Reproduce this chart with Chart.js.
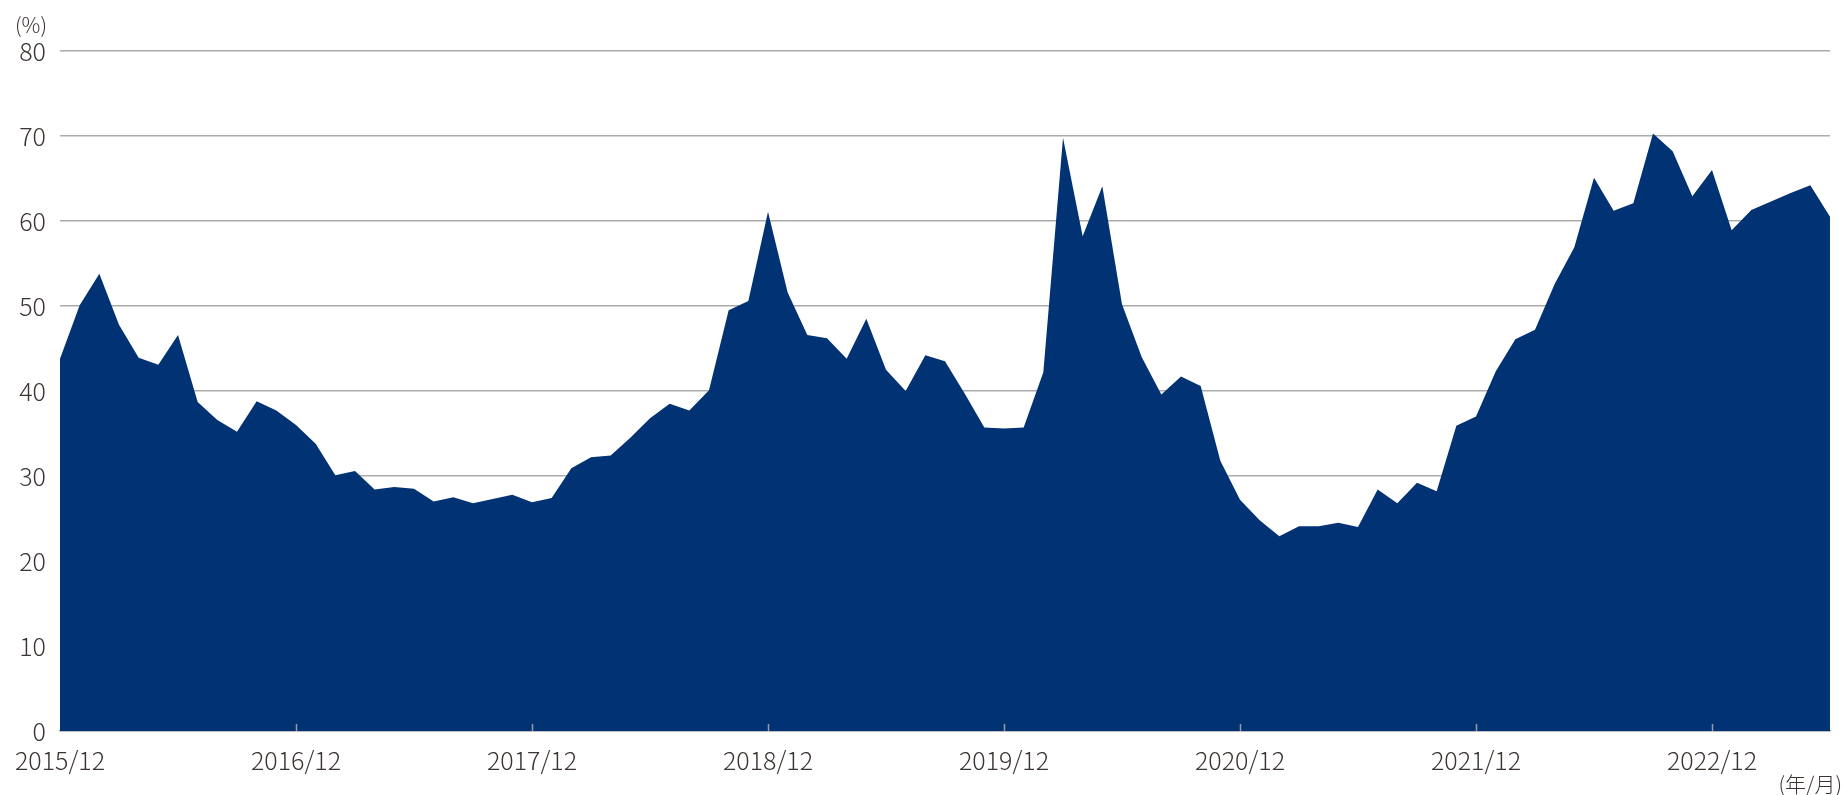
<!DOCTYPE html>
<html lang="ja">
<head>
<meta charset="utf-8">
<title>Chart</title>
<script src="https://cdn.jsdelivr.net/npm/chart.js@4/dist/chart.umd.min.js"></script>
<style>
  html, body { margin: 0; padding: 0; background: #fff; }
  #wrap { position: relative; width: 1843px; height: 795px; }
</style>
</head>
<body>
<div id="wrap"><canvas id="areaChart"></canvas></div>
<script>
// monthly values (%), one small array per calendar year
const startYear = 2015;
const startMonth = 12;
const vals2015 = [43.8];
const vals2016 = [50.1, 53.8, 47.8, 43.9, 43.1, 46.6, 38.7, 36.6, 35.2, 38.8, 37.7, 36.0];
const vals2017 = [33.8, 30.1, 30.6, 28.4, 28.7, 28.5, 27.0, 27.5, 26.8, 27.3, 27.8, 26.9];
const vals2018 = [27.4, 30.9, 32.2, 32.4, 34.5, 36.8, 38.5, 37.7, 40.1, 49.5, 50.6, 61.1];
const vals2019 = [51.6, 46.6, 46.2, 43.8, 48.5, 42.5, 40.0, 44.2, 43.5, 39.7, 35.7, 35.6];
const vals2020 = [35.7, 42.2, 69.8, 58.2, 64.1, 50.2, 44.0, 39.6, 41.7, 40.6, 31.8, 27.2];
const vals2021 = [24.8, 22.9, 24.1, 24.1, 24.5, 24.0, 28.4, 26.8, 29.2, 28.2, 35.9, 37.0];
const vals2022 = [42.3, 46.1, 47.2, 52.6, 56.9, 65.1, 61.2, 62.1, 70.3, 68.2, 62.9, 66.0];
const vals2023 = [58.9, 61.3, 62.3, 63.3, 64.2, 60.5];

const yTicks = [0, 10, 20, 30, 40, 50, 60, 70, 80];
const yUnit = "(%)";
const xUnit = "(年/月)";

const values = [].concat(vals2015, vals2016, vals2017, vals2018, vals2019,
                         vals2020, vals2021, vals2022, vals2023);

// month labels "YYYY/MM"
const labels = values.map((_, i) => {
  const m0 = startMonth - 1 + i;
  const y = startYear + Math.floor(m0 / 12);
  const m = (m0 % 12) + 1;
  return y + "/" + String(m).padStart(2, "0");
});

const FONT = "'Noto Sans CJK JP', 'Noto Sans', sans-serif";
const TEXT = "#3b3431";
const GRID = "#ababab";

// short tick marks pointing up into the plot + unit labels
const overlay = {
  id: "overlay",
  afterDatasetsDraw(chart) {
    const { ctx, chartArea, scales } = chart;
    const xs = scales.x;
    ctx.save();
    ctx.strokeStyle = "#9c9c9c";
    ctx.lineWidth = 1.5;
    xs.ticks.forEach((t, i) => {
      if (!t.label || i === 0) return;
      const px = Math.round(xs.getPixelForTick(i)) + 0.5;
      ctx.beginPath();
      ctx.moveTo(px, chartArea.bottom);
      ctx.lineTo(px, chartArea.bottom - 7);
      ctx.stroke();
    });
    ctx.restore();
  },
  afterDraw(chart) {
    const { ctx } = chart;
    ctx.save();
    ctx.fillStyle = TEXT;
    ctx.font = "300 21px " + FONT;
    ctx.textBaseline = "middle";
    ctx.textAlign = "left";
    ctx.fillText(yUnit, 15, 25);
    ctx.textAlign = "right";
    ctx.fillText(xUnit, chart.width - 1, 784);
    ctx.restore();
  }
};

new Chart(document.getElementById("areaChart"), {
  type: "line",
  data: {
    labels: labels,
    datasets: [{
      label: "比率",
      data: values,
      fill: "origin",
      backgroundColor: "#013273",
      borderWidth: 0,
      pointRadius: 0,
      tension: 0
    }]
  },
  options: {
    responsive: true,
    maintainAspectRatio: false,
    animation: false,
    layout: { padding: { left: 0, right: 13, top: 51, bottom: 0 } },
    plugins: {
      legend: { display: false },
      tooltip: { enabled: false }
    },
    scales: {
      x: {
        type: "category",
        offset: false,
        grid: { display: false, drawTicks: false },
        border: { display: true, color: GRID, width: 1.5 },
        ticks: {
          autoSkip: false,
          maxRotation: 0,
          padding: 14,
          color: TEXT,
          font: { family: FONT, size: 25, weight: "300" },
          callback: function (v, i) {
            const l = labels[i];
            return l.endsWith("/12") ? l : null;
          }
        },
        afterFit(scale) { scale.height = 64; }
      },
      y: {
        min: yTicks[0],
        max: yTicks[yTicks.length - 1],
        afterBuildTicks(scale) { scale.ticks = yTicks.map(v => ({ value: v })); },
        grid: { color: GRID, lineWidth: 1.5, drawTicks: false },
        border: { display: false },
        ticks: {
          padding: 14,
          color: TEXT,
          font: { family: FONT, size: 25, weight: "300" }
        },
        afterFit(scale) { scale.width = 60; }
      }
    }
  },
  plugins: [overlay]
});
</script>
</body>
</html>
